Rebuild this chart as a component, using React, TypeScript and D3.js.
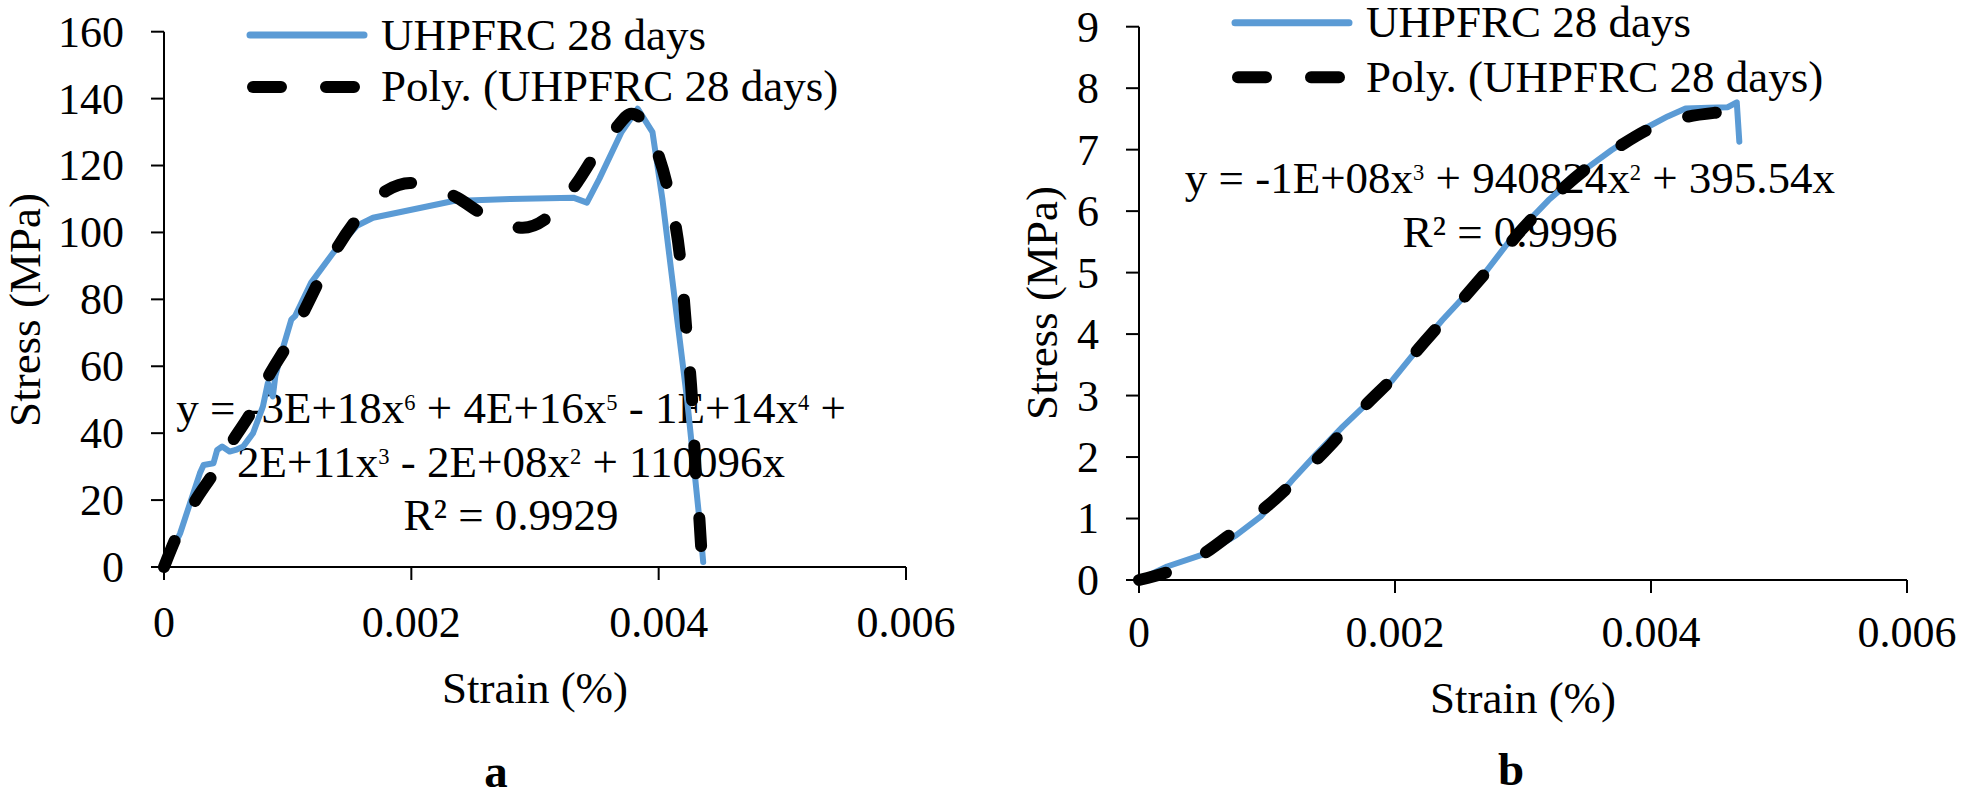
import React from "react";
import * as d3 from "d3";

// ---------- data ----------
const xTicks = [0, 0.002, 0.004, 0.006];
const xTickLabels = ["0", "0.002", "0.004", "0.006"];
const yTicksA = [0, 20, 40, 60, 80, 100, 120, 140, 160];
const yTicksB = [0, 1, 2, 3, 4, 5, 6, 7, 8, 9];

const seriesNameA = "UHPFRC 28 days";
const trendNameA = "Poly. (UHPFRC 28 days)";
const seriesNameB = "UHPFRC 28 days";
const trendNameB = "Poly. (UHPFRC 28 days)";

// panel a: measured curve [strain, stress]
const measuredA: [number, number][] = [
  [0, 0], [0.00013, 10], [0.00021, 19], [0.00029, 28], [0.00032, 30.5], [0.0004, 31],
  [0.00043, 35], [0.00047, 36], [0.00053, 34.5], [0.00058, 35], [0.00064, 36], [0.00068, 38],
  [0.00072, 40], [0.0008, 48], [0.00084, 55], [0.00086, 53], [0.00088, 51], [0.0009, 57],
  [0.00095, 64], [0.00103, 74], [0.00106, 75], [0.00119, 85], [0.00137, 94], [0.00156, 102],
  [0.00169, 104.4], [0.00234, 109.4], [0.0028, 110], [0.00331, 110.4], [0.00342, 108.9],
  [0.00352, 116], [0.0037, 130], [0.00383, 137], [0.00395, 130], [0.00403, 110],
  [0.00413, 80], [0.00423, 50], [0.00433, 14], [0.00436, 1.5],
];
// panel a: polynomial trendline
const trendA: [number, number][] = [
  [0, 0], [0.0001, 9], [0.00024, 19], [0.0004, 28], [0.00056, 38], [0.0007, 46],
  [0.00086, 58], [0.00099, 66], [0.00114, 77], [0.00126, 86], [0.00141, 96], [0.00156, 104],
  [0.0018, 112.5], [0.00199, 114.8], [0.00212, 114.5], [0.00237, 110.4], [0.0026, 105],
  [0.0029, 101.4], [0.00315, 106], [0.00335, 115.4], [0.0035, 124], [0.00365, 131],
  [0.00378, 135.5], [0.00388, 133], [0.00398, 125], [0.00408, 112], [0.00418, 90],
  [0.00423, 68], [0.00427, 50], [0.0043, 28], [0.00433, 14], [0.00435, 2],
];
// panel b
const measuredB: [number, number][] = [
  [0, 0], [0.00022, 0.22], [0.00052, 0.43], [0.00076, 0.73], [0.00095, 1.03], [0.0012, 1.63],
  [0.00139, 2.06], [0.00159, 2.49], [0.00178, 2.87], [0.00198, 3.25], [0.00217, 3.74],
  [0.00237, 4.23], [0.00266, 4.88], [0.0029, 5.53], [0.0032, 6.18], [0.00344, 6.61],
  [0.00369, 6.99], [0.00393, 7.32], [0.00413, 7.54], [0.00427, 7.67], [0.00445, 7.68],
  [0.0046, 7.69], [0.00467, 7.77], [0.00469, 7.13],
];
const trendB: [number, number][] = [
  [0, 0], [0.00025, 0.15], [0.0005, 0.42], [0.00075, 0.8], [0.001, 1.2], [0.00125, 1.68],
  [0.0015, 2.2], [0.00175, 2.8], [0.002, 3.32], [0.00225, 3.92], [0.0025, 4.5],
  [0.00275, 5.1], [0.003, 5.72], [0.00325, 6.25], [0.0035, 6.7], [0.00375, 7.05],
  [0.004, 7.35], [0.00425, 7.52], [0.0045, 7.6], [0.0046, 7.62],
];

const BLUE = "#5B9BD5";
const FONT = "'Liberation Serif', 'Times New Roman', serif";

type Sup = { base: string; sup?: string };
const eqA: Sup[][] = [
  [{ base: "y = -3E+18x", sup: "6" }, { base: " + 4E+16x", sup: "5" }, { base: " - 1E+14x", sup: "4" }, { base: " +" }],
  [{ base: "2E+11x", sup: "3" }, { base: " - 2E+08x", sup: "2" }, { base: " + 110096x" }],
  [{ base: "R² = 0.9929" }],
];
const eqB: Sup[][] = [
  [{ base: "y = -1E+08x", sup: "3" }, { base: " + 940824x", sup: "2" }, { base: " + 395.54x" }],
  [{ base: "R² = 0.9996" }],
];

function EqLine({ parts, x, y, size }: { parts: Sup[]; x: number; y: number; size: number }) {
  const supSize = size * 0.5;
  const shift = size * 0.3;
  const kids: any[] = [];
  parts.forEach((p, i) => {
    kids.push(<tspan key={i + "b"} fontSize={size} dy={i > 0 && parts[i - 1].sup ? shift : 0}>{p.base}</tspan>);
    if (p.sup) kids.push(<tspan key={i + "s"} fontSize={supSize} dy={-shift}>{p.sup}</tspan>);
  });
  return (
    <text x={x} y={y} textAnchor="middle" fontFamily={FONT} fill="#000">{kids}</text>
  );
}

type PanelProps = {
  x0: number; x1: number; y0: number; y1: number; yMax: number; yTicks: number[];
  measured: [number, number][]; trend: [number, number][];
  ylabX: number; ylabY: number; xTickDy: number; xTitleY: number; xTitleX: number;
  letter: string; letterX: number; letterY: number;
  legX: number; legY1: number; legY2: number; legTextY1: number; legTextY2: number;
  name: string; trendName: string;
  eq: Sup[][]; eqX: number; eqY: number[];
};

function Panel(p: PanelProps) {
  const x = d3.scaleLinear().domain([0, 0.006]).range([p.x0, p.x1]);
  const y = d3.scaleLinear().domain([0, p.yMax]).range([p.y0, p.y1]);
  const line = d3.line<[number, number]>().x((d) => x(d[0])).y((d) => y(d[1]));
  const smooth = d3.line<[number, number]>().x((d) => x(d[0])).y((d) => y(d[1])).curve(d3.curveMonotoneX);
  const tickFs = 44;
  return (
    <g>
      {/* axes */}
      <line x1={p.x0} x2={p.x0} y1={p.y1} y2={p.y0} stroke="#000" strokeWidth={2} />
      <line x1={p.x0} x2={p.x1} y1={p.y0} y2={p.y0} stroke="#000" strokeWidth={2} />
      {p.yTicks.map((t) => (
        <g key={"y" + t}>
          <line x1={p.x0 - 13} x2={p.x0} y1={y(t)} y2={y(t)} stroke="#000" strokeWidth={2} />
          <text x={p.x0 - 40} y={y(t)} dy="0.34em" textAnchor="end" fontSize={tickFs} fontFamily={FONT}>{t}</text>
        </g>
      ))}
      {xTicks.map((t, i) => (
        <g key={"x" + t}>
          <line x1={x(t)} x2={x(t)} y1={p.y0} y2={p.y0 + 13} stroke="#000" strokeWidth={2} />
          <text x={x(t)} y={p.y0 + p.xTickDy} textAnchor="middle" fontSize={tickFs} fontFamily={FONT}>{xTickLabels[i]}</text>
        </g>
      ))}
      <text x={p.xTitleX} y={p.xTitleY} textAnchor="middle" fontSize={45} fontFamily={FONT}>Strain (%)</text>
      <text transform={`translate(${p.ylabX},${p.ylabY}) rotate(-90)`} textAnchor="middle" fontSize={45} fontFamily={FONT}>Stress (MPa)</text>
      <text x={p.letterX} y={p.letterY} textAnchor="middle" fontSize={47} fontWeight="bold" fontFamily={FONT}>{p.letter}</text>

      {/* equation */}
      {p.eq.map((ln, i) => (
        <EqLine key={i} parts={ln} x={p.eqX} y={p.eqY[i]} size={45} />
      ))}

      {/* series */}
      <path d={line(p.measured) || ""} fill="none" stroke={BLUE} strokeWidth={6} strokeLinejoin="round" strokeLinecap="round" />
      <path d={smooth(p.trend) || ""} fill="none" stroke="#000" strokeWidth={12} strokeDasharray="28 45" strokeLinecap="round" strokeLinejoin="round" />

      {/* legend */}
      <line x1={p.legX + 3} x2={p.legX + 117} y1={p.legY1} y2={p.legY1} stroke={BLUE} strokeWidth={7} strokeLinecap="round" />
      <line x1={p.legX + 6} x2={p.legX + 110} y1={p.legY2} y2={p.legY2} stroke="#000" strokeWidth={12} strokeDasharray="28 45" strokeLinecap="round" />
      <text x={p.legX + 134} y={p.legTextY1} fontSize={45} fontFamily={FONT}>{p.name}</text>
      <text x={p.legX + 134} y={p.legTextY2} fontSize={45} fontFamily={FONT}>{p.trendName}</text>
    </g>
  );
}

export default function App() {
  return (
    <svg width={1961} height={803} style={{ position: "absolute", left: 0, top: 0, background: "#fff" }}>
      <rect width={1961} height={803} fill="#fff" />
      <Panel
        x0={164} x1={906} y0={567} y1={31.7} yMax={160} yTicks={yTicksA}
        measured={measuredA} trend={trendA}
        ylabX={40} ylabY={310} xTickDy={70} xTitleY={703} xTitleX={535}
        letter="a" letterX={496} letterY={787}
        legX={247} legY1={35} legY2={87} legTextY1={50} legTextY2={101}
        name={seriesNameA} trendName={trendNameA}
        eq={eqA} eqX={511} eqY={[423, 477, 530]}
      />
      <Panel
        x0={1139} x1={1907} y0={580} y1={26.7} yMax={9} yTicks={yTicksB}
        measured={measuredB} trend={trendB}
        ylabX={1057} ylabY={303} xTickDy={67} xTitleY={713} xTitleX={1523}
        letter="b" letterX={1511} letterY={785}
        legX={1232} legY1={22.7} legY2={77.3} legTextY1={37} legTextY2={92}
        name={seriesNameB} trendName={trendNameB}
        eq={eqB} eqX={1510} eqY={[193, 247]}
      />
    </svg>
  );
}
